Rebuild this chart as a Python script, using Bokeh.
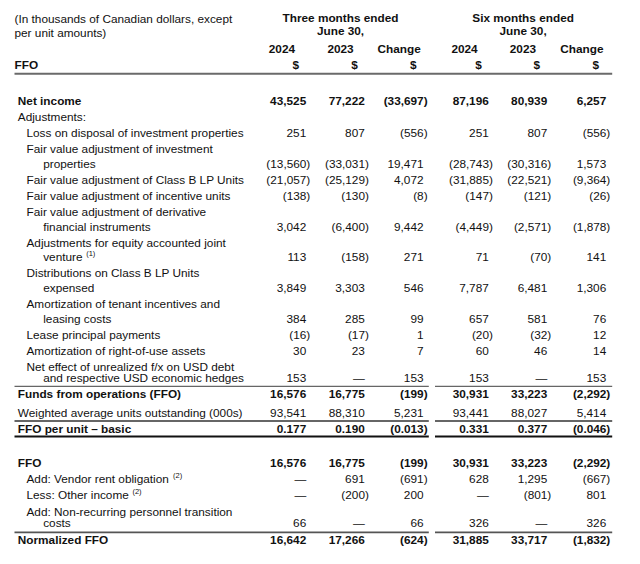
from collections import defaultdict
from bokeh.plotting import figure
from bokeh.models import ColumnDataSource, Range1d
from bokeh.core.properties import value
from bokeh.embed import file_html
from bokeh.resources import INLINE

# ---------------- data ----------------
title_lines = ["(In thousands of Canadian dollars, except", "per unit amounts)"]
period_groups = [["Three months ended", "June 30,"], ["Six months ended", "June 30,"]]
column_labels = ["2024", "2023", "Change", "2024", "2023", "Change"]
column_units = ["$", "$", "$", "$", "$", "$"]
section_header = "FFO"

row_labels = [
    ["Net income"],
    ["Adjustments:"],
    ["Loss on disposal of investment properties"],
    ["Fair value adjustment of investment", "properties"],
    ["Fair value adjustment of Class B LP Units"],
    ["Fair value adjustment of incentive units"],
    ["Fair value adjustment of derivative", "financial instruments"],
    ["Adjustments for equity accounted joint", "venture"],
    ["Distributions on Class B LP Units", "expensed"],
    ["Amortization of tenant incentives and", "leasing costs"],
    ["Lease principal payments"],
    ["Amortization of right-of-use assets"],
    ["Net effect of unrealized f/x on USD debt", "and respective USD economic hedges"],
    ["Funds from operations (FFO)"],
    ["Weighted average units outstanding (000s)"],
    ["FFO per unit \u2013 basic"],
    ["FFO"],
    ["Add: Vendor rent obligation"],
    ["Less: Other income"],
    ["Add: Non-recurring personnel transition", "costs"],
    ["Normalized FFO"],
]
row_notes = [None, None, None, None, None, None, None, "(1)", None, None, None, None, None,
             None, None, None, None, "(2)", "(2)", None, None]

three_months_2024 = [43525, None, 251, -13560, -21057, -138, 3042, 113, 3849, 384, -16, 30, 153,
                     16576, 93541, 0.177, 16576, 0, 0, 66, 16642]
three_months_2023 = [77222, None, 807, -33031, -25129, -130, -6400, -158, 3303, 285, -17, 23, 0,
                     16775, 88310, 0.190, 16775, 691, -200, 0, 17266]
three_months_change = [-33697, None, -556, 19471, 4072, -8, 9442, 271, 546, 99, 1, 7, 153,
                       -199, 5231, -0.013, -199, -691, 200, 66, -624]
six_months_2024 = [87196, None, 251, -28743, -31885, -147, -4449, 71, 7787, 657, -20, 60, 153,
                   30931, 93441, 0.331, 30931, 628, 0, 326, 31885]
six_months_2023 = [80939, None, 807, -30316, -22521, -121, -2571, -70, 6481, 581, -32, 46, 0,
                   33223, 88027, 0.377, 33223, 1295, -801, 0, 33717]
six_months_change = [6257, None, -556, 1573, -9364, -26, -1878, 141, 1306, 76, 12, 14, 153,
                     -2292, 5414, -0.046, -2292, -667, 801, 326, -1832]

# ---------------- styling / layout ----------------
row_bold = [True, False, False, False, False, False, False, False, False, False, False, False, False,
            True, False, True, True, False, False, False, True]
row_indent = [0, 0, 1, 1, 1, 1, 1, 1, 1, 1, 1, 1, 1, 0, 0, 0, 0, 1, 1, 1, 0]
row_tight = [False] * 12 + [True] + [False] * 6 + [True, False]
row_pad = [0] * 14 + [2.5, 0, 18.5, 0, 0, 0, 1.5]
row_decimals = [0] * 15 + [3] + [0] * 5
rule_above = {13: ("#666666", 1.4), 15: ("#666666", 2.0), 20: ("#555555", 1.8)}
rule_below = {15: ("#111111", 2.0)}

FONT = value("Liberation Sans")
FS = 11.8
FS_STR = "11.8px"
SUP_STR = "7.5px"
col_right = [305.7, 364.3, 423.0, 488.3, 546.7, 605.7]
PAREN_HANG = 4.1
PITCH = 16.5
SECOND_LINE = 15.0
SECOND_LINE_TIGHT = 11.5
FIRST_ROW_Y = 102.3
INDENT_X = [17.3, 26.0]
CONT_X = 42.7
LEFT_X = 14.0
SEG_SPLIT = (428.3, 434.5)
RIGHT_X = 611.7

# Arial / Liberation Sans advance widths (per 1000 em) for note placement
W = {" ": 278, "(": 333, ")": 333, ":": 278, "-": 333, "A": 667, "V": 667, "L": 556, "O": 778,
     "a": 556, "b": 556, "c": 500, "d": 556, "e": 556, "f": 278, "g": 556, "h": 556, "i": 222,
     "j": 222, "k": 500, "l": 222, "m": 833, "n": 556, "o": 556, "p": 556, "q": 556, "r": 333,
     "s": 500, "t": 278, "u": 556, "v": 500, "w": 722, "x": 500, "y": 500, "z": 500}


def text_width(s):
    return sum(W.get(ch, 556) for ch in s) * FS / 1000.0


def fmt(v, dec):
    if v is None:
        return ""
    if v == 0:
        return "\u2014"
    s = f"{abs(v):,.{dec}f}"
    return f"({s})" if v < 0 else s


p = figure(width=624, height=548, x_range=Range1d(0, 624), y_range=Range1d(561.2, -0.3),
           output_backend="svg", toolbar_location=None, min_border=0,
           x_axis_type=None, y_axis_type=None)
p.grid.visible = False
p.outline_line_color = None
p.background_fill_color = "white"
p.border_fill_color = "white"

buckets = defaultdict(lambda: dict(x=[], y=[], t=[]))


def put(x, y, t, align="left", bold=False, size=FS_STR):
    b = buckets[(align, bold, size)]
    b["x"].append(x)
    b["y"].append(y)
    b["t"].append(t)


# header
put(LEFT_X, 18.3, title_lines[0])
put(LEFT_X, 33.3, title_lines[1])
for g, group in enumerate(period_groups):
    cx = sum(col_right[3 * g + k] - 24.3 for k in range(3)) / 3.0
    put(cx, 17.7, group[0], "center", True)
    put(cx, 30.7, group[1], "center", True)
for c in range(6):
    put(col_right[c] - 24.3, 49.3, column_labels[c], "center", True)
    put(col_right[c] - 10.3, 66.3, column_units[c], "center", True)
put(LEFT_X, 66.3, section_header, "left", True)

seg_x0, seg_y0, seg_x1, seg_y1, seg_c, seg_w = [], [], [], [], [], []


def rule(y, color, width, full=False):
    spans = [(LEFT_X, RIGHT_X)] if full else [(LEFT_X, SEG_SPLIT[0]), (SEG_SPLIT[1], RIGHT_X)]
    for a, b in spans:
        seg_x0.append(a); seg_x1.append(b); seg_y0.append(y); seg_y1.append(y)
        seg_c.append(color); seg_w.append(width)


rule(66.3 + 8.4, "#6a6a6a", 2.0, full=True)

columns = [three_months_2024, three_months_2023, three_months_change,
           six_months_2024, six_months_2023, six_months_change]

y = FIRST_ROW_Y
for i, lines in enumerate(row_labels):
    y += row_pad[i]
    ys = [y]
    if len(lines) == 2:
        ys.append(y + (SECOND_LINE_TIGHT if row_tight[i] else SECOND_LINE))
    bold = row_bold[i]
    lx = INDENT_X[row_indent[i]]
    for k, line in enumerate(lines):
        put(lx if k == 0 else CONT_X, ys[k], line, "left", bold)
    if row_notes[i]:
        last_x = lx if len(lines) == 1 else CONT_X
        put(last_x + text_width(lines[-1]) + 3.6, ys[-1] - 3.6, row_notes[i], "left", False, SUP_STR)
    vy = ys[-1]
    for c, col in enumerate(columns):
        v = col[i]
        if v is None:
            continue
        put(col_right[c] + (PAREN_HANG if v < 0 else 0), vy, fmt(v, row_decimals[i]), "right", bold)
    if i in rule_above:
        rule(ys[0] - 8.2, *rule_above[i])
    if i in rule_below:
        rule(vy + 7.6, *rule_below[i])
    y = ys[-1] + PITCH

p.segment(x0="x0", y0="y0", x1="x1", y1="y1", line_color="c", line_width="w",
          source=ColumnDataSource(dict(x0=seg_x0, y0=seg_y0, x1=seg_x1, y1=seg_y1, c=seg_c, w=seg_w)))

for (align, bold, size), d in buckets.items():
    p.text(x="x", y="y", text="t", source=ColumnDataSource(d), text_align=align,
           text_baseline="middle", text_font=FONT, text_font_size=size,
           text_font_style="bold" if bold else "normal", text_color="#111111")

open("out.html", "w").write(file_html(p, INLINE))
